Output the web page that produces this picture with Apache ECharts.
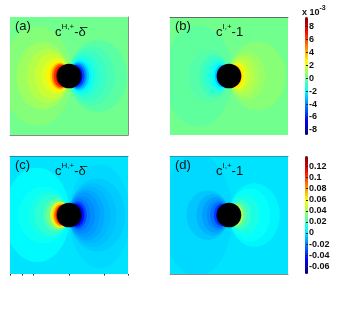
<!DOCTYPE html>
<html><head><meta charset="utf-8">
<style>html,body{margin:0;padding:0;background:#fff}#c{width:347px;height:310px}</style>
<script src="https://cdn.jsdelivr.net/npm/echarts@6/dist/echarts.min.js"></script>
</head><body><div id="c"></div>
<script>
// Contour regions: [centreX, centreY, radiusX, radiusY, level]; disc radius = 1 axis unit
const contoursA = [
 [0,0,100,100,0.1],
 [-2.7,0,3.0,4.2,0.45],[-2.22,0,2.22,2.85,0.9],[-1.8,0,1.8,2.3,1.3],[-1.45,0,1.45,1.9,1.7],[-1.15,0,1.15,1.5,2.1],
 [-0.95,0,0.95,1.3,2.8],[-0.8,0,0.8,1.15,3.5],[-0.72,0,0.73,1.05,5],[-0.65,0,0.65,0.95,6.5],[-0.55,0,0.58,0.82,7.8],
 [2.45,0,2.45,3.05,-0.3],[1.95,0,1.95,2.55,-0.6],[1.6,0,1.6,2.15,-0.9],[1.3,0,1.3,1.8,-1.2],[1.1,0,1.1,1.55,-1.6],[0.95,0,0.95,1.35,-2.1],[0.85,0,0.85,1.2,-2.9],
 [0.75,0,0.75,1.08,-4],[0.66,0,0.66,0.95,-5.3],[0.56,0,0.58,0.82,-6.6]
];
const contoursB = [
 [0,0,100,100,0.1],
 [-2.6,0,2.9,4.3,-0.2],[-1.7,0,1.7,2.2,-0.4],[-1.25,0,1.25,1.8,-0.8],[-1.05,0,1.05,1.5,-1.1],[-0.85,0,0.85,1.25,-1.5],[-0.7,0,0.7,1.1,-2],[-0.6,0,0.6,0.95,-3],[-0.52,0,0.54,0.82,-4.4],
 [2.4,0,2.4,2.9,0.5],[1.55,0,1.55,2.05,0.8],[1.25,0,1.25,1.75,1.1],[1.05,0,1.05,1.45,1.4],[0.85,0,0.85,1.25,1.8],[0.7,0,0.7,1.1,2.3],[0.62,0,0.62,1.0,3],[0.54,0,0.54,0.85,4]
];
const contoursC = [
 [0,0,100,100,0.0],
 [2.6,-0.1,2.6,4.4,-0.002],
 [-2.7,0,2.8,4.0,0.005],[-2.15,0,2.15,2.4,0.008],[-1.7,0,1.7,1.95,0.011],[-1.45,0,1.45,1.7,0.015],[-1.1,0,1.1,1.4,0.022],[-0.95,0,0.95,1.25,0.03],[-0.8,0,0.8,1.1,0.05],[-0.72,0,0.73,1.02,0.065],[-0.65,0,0.65,0.92,0.085],[-0.57,0,0.58,0.84,0.105],
 [2.38,0,2.38,3.1,-0.005],[2.0,0,2.0,2.7,-0.007],[1.75,0,1.75,2.4,-0.009],[1.5,0,1.5,2.15,-0.012],[1.3,0,1.3,1.9,-0.015],[1.1,0,1.1,1.6,-0.018],[0.9,0,0.9,1.35,-0.022],[0.75,0,0.75,1.15,-0.032],[0.65,0,0.65,0.98,-0.045],[0.56,0,0.58,0.84,-0.06]
];
const contoursD = [
 [0,0,100,100,0.0],
 [-2.7,0,3.0,5.2,-0.002],
 [-1.8,0,1.8,2.1,-0.006],[-1.38,0,1.38,1.75,-0.01],[-1.15,0,1.15,1.5,-0.014],[-0.95,0,0.95,1.25,-0.018],[-0.8,0,0.8,1.1,-0.024],[-0.64,0,0.64,0.95,-0.036],[-0.53,0,0.55,0.8,-0.054],
 [2.15,0,2.15,2.7,0.004],[1.75,0,1.75,2.25,0.007],[1.3,0,1.3,1.7,0.011],[0.95,0,0.95,1.25,0.017],[0.75,0,0.75,1.05,0.025],[0.6,0,0.6,0.9,0.04],[0.54,0,0.54,0.8,0.05]
];
const discCentre = [[0,0]];
const panelLabels = ['(a)','(b)','(c)','(d)'];
const panelTitles = ['{m|c}{s|H,+}{m|-δ̄}','{m|c}{s|I,+}{m|-1}','{m|c}{s|H,+}{m|-δ̄}','{m|c}{s|I,+}{m|-1}'];
const topTicks = [-5,-4,-3,0,3,5];
const barTicksTop = [-8,-6,-4,-2,0,2,4,6,8];
const barTicksBottom = [-0.06,-0.04,-0.02,0,0.02,0.04,0.06,0.08,0.1,0.12];
const jet = ['#00007f','#0000ff','#007fff','#00ffff','#7fff7f','#ffff00','#ff7f00','#ff0000','#7f0000'];

const panels = [
 {x:10, y:17, data:contoursA, top:null, bottom:'#8a8a8a', right:'#8a8a8a', ticks:false},
 {x:170,y:17, data:contoursB, top:'#5f6f5f', bottom:null, right:null, ticks:false},
 {x:10, y:156,data:contoursC, top:'#1f8f9f', bottom:null, right:null, ticks:true},
 {x:170,y:156,data:contoursD, top:'#1f9fb0', bottom:'#8a8a8a', right:null, ticks:false}
];
const grid=[], xAxis=[], yAxis=[], series=[], title=[];
function line(c){return {show:!!c,onZero:false,lineStyle:{color:c||'#000',width:1}};}
panels.forEach((p,i)=>{
  grid.push({left:p.x,top:p.y,width:118,height:118});
  xAxis.push({type:'value',gridIndex:i,z:10,min:-5,max:5,position:'bottom',axisLine:line(p.bottom),
    axisLabel:{show:false},splitLine:{show:false},
    axisTick:p.ticks?{show:true,inside:false,length:1.5,customValues:topTicks,lineStyle:{color:'#222'}}:{show:false}});
  xAxis.push({type:'value',gridIndex:i,z:10,min:-5,max:5,position:'top',axisLine:line(p.top),axisLabel:{show:false},axisTick:{show:false},splitLine:{show:false}});
  yAxis.push({type:'value',gridIndex:i,z:10,min:-5,max:5,position:'right',axisLine:line(p.right),axisLabel:{show:false},axisTick:{show:false},splitLine:{show:false}});
  series.push({type:'custom',xAxisIndex:i*2,yAxisIndex:i,clip:true,silent:true,data:p.data,
    renderItem:(params,api)=>{
      const c=api.coord([api.value(0),api.value(1)]), s=api.size([api.value(2),api.value(3)]);
      return {type:'ellipse',shape:{cx:c[0],cy:c[1],rx:s[0],ry:s[1]},style:{fill:api.visual('color')}};
    }});
  series.push({type:'scatter',xAxisIndex:i*2,yAxisIndex:i,silent:true,symbol:'circle',symbolSize:24.6,
    itemStyle:{color:'#000',opacity:1},data:discCentre,z:5});
  title.push({text:panelLabels[i],left:p.x+5,top:p.y+3,padding:0,textStyle:{fontFamily:'Liberation Sans',fontSize:13,fontWeight:'normal',color:'#111'}});
  title.push({text:panelTitles[i],left:p.x+(i%2?46:45),top:p.y+6,padding:0,
    textStyle:{fontWeight:'normal',rich:{m:{fontFamily:'Liberation Sans',fontSize:13,fontWeight:'normal',color:'#111',lineHeight:16,verticalAlign:'bottom'},
                     s:{fontFamily:'Liberation Sans',fontSize:8,fontWeight:'normal',color:'#111',lineHeight:16,verticalAlign:'top'}}}});
});
// colour-bar axes
[[barTicksTop,-8.8,9.5,17],[barTicksBottom,-0.074,0.139,156]].forEach((b,k)=>{
  const g=4+k;
  grid.push({left:305,top:b[3],width:3,height:118});
  xAxis.push({type:'value',gridIndex:g,show:false,min:0,max:1});
  yAxis.push({type:'value',gridIndex:g,z:10,min:b[1],max:b[2],position:'right',axisLine:{show:false,onZero:false},splitLine:{show:false},
    axisTick:{show:true,inside:true,length:2,customValues:b[0],lineStyle:{color:'#222'}},
    axisLabel:{show:true,customValues:b[0],margin:1,hideOverlap:false,showMinLabel:true,showMaxLabel:true,
      fontFamily:'Liberation Sans',fontSize:9,fontWeight:'bold',color:'#111'}});
});
title.push({text:'{b|x 10}{t|-3}',left:302,top:5,padding:0,textStyle:{rich:{
  b:{fontFamily:'Liberation Sans',fontSize:9,fontWeight:'bold',color:'#111',lineHeight:12,verticalAlign:'bottom'},
  t:{fontFamily:'Liberation Sans',fontSize:7,fontWeight:'bold',color:'#111',lineHeight:12,verticalAlign:'top'}}}});
function vm(seriesIndex,min,max,top){
  return {type:'continuous',seriesIndex,dimension:4,min,max,left:305,top,itemWidth:3,itemHeight:118,padding:0,
    calculable:false,text:null,showLabel:false,hoverLink:false,borderWidth:0,realtime:false,inRange:{color:jet}};
}
const chart=echarts.init(document.getElementById('c'),null,{renderer:'canvas'});
chart.setOption({animation:false,backgroundColor:'#fff',title,grid,xAxis,yAxis,series,
  tooltip:{show:false},
  visualMap:[vm([0,2],-8.8,9.5,17),vm([4,6],-0.074,0.139,156)]});
</script></body></html>
